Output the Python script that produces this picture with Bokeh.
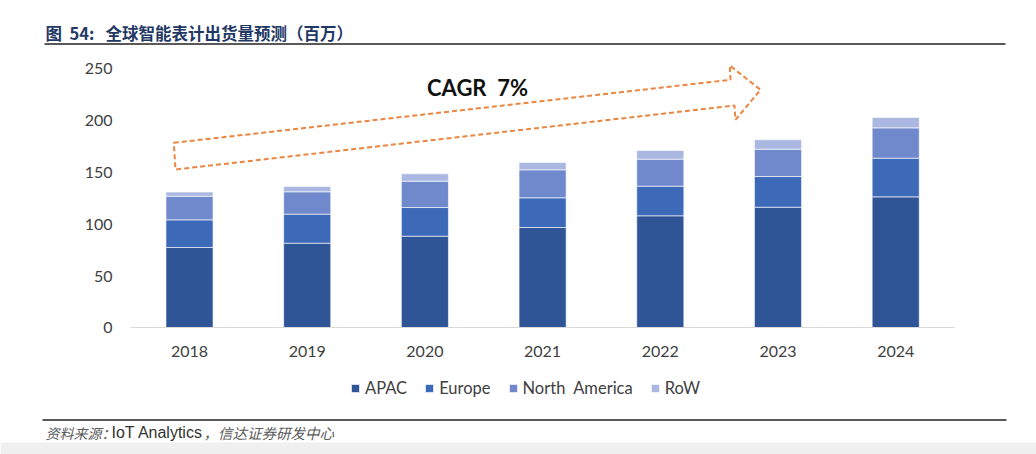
from bokeh.plotting import figure
from bokeh.models import (ColumnDataSource, Range1d, FixedTicker, Legend, LegendItem,
                          Label, PolyAnnotation, Arrow, BoxAnnotation)
from bokeh.embed import file_html
from bokeh.resources import INLINE

# ---------------- data ----------------
years = ["2018", "2019", "2020", "2021", "2022", "2023", "2024"]
series = ["APAC", "Europe", "North  America", "RoW"]
apac = [77.5, 81.7, 88.4, 96.8, 108.1, 116.4, 126.4]
europe = [26.7, 28.0, 27.7, 28.7, 28.6, 29.6, 37.3]
north_america = [22.8, 21.6, 25.4, 27.0, 26.1, 26.4, 29.3]
row = [4.0, 5.1, 7.1, 7.1, 8.3, 9.1, 10.0]
y_ticks = [0, 50, 100, 150, 200, 250]

title_text = "图\u00a0\u00a054:\u00a0\u00a0\u00a0全球智能表计出货量预测（百万）"
source_parts = ["资料来源：", "IoT Analytics", "，信达证券研发中心"]
cagr_text = "CAGR\u00a0\u00a07%"

colors = ["#2F5597", "#3D69B9", "#7089CC", "#A9B7E1"]

# ---------------- geometry (page pixels) ----------------
W, H = 1036, 454
x0_px, unit_w = 189.0, 117.7     # centre of first category, category spacing
y0_px, ppu = 327.3, 1.036         # baseline, pixels per unit


def dx(px):
    return (px - x0_px) / unit_w


def dy(py):
    return (y0_px - py) / ppu


xs = list(range(len(years)))

p = figure(width=W, height=H, x_range=Range1d(dx(0), dx(W)), y_range=Range1d(dy(H), dy(0)),
           output_backend="svg", toolbar_location=None,
           min_border=0, min_border_left=0, min_border_right=0,
           min_border_top=0, min_border_bottom=0)
p.outline_line_color = None
p.xgrid.grid_line_color = None
p.ygrid.grid_line_color = None
p.background_fill_color = "white"
p.border_fill_color = "white"

src = ColumnDataSource(dict(x=xs, APAC=apac, Europe=europe, NA=north_america, RoW=row))
renderers = p.vbar_stack(["APAC", "Europe", "NA", "RoW"], x="x", width=0.4,
                         source=src, color=colors, line_color="#FFFFFF", line_width=0.6)

# y axis
ya = p.yaxis[0]
ya.fixed_location = -0.5
ya.bounds = (0, 250)
ya.ticker = FixedTicker(ticks=y_ticks)
ya.axis_line_color = None
ya.major_tick_line_color = None
ya.minor_tick_line_color = None
ya.major_label_text_font = "Lato"
ya.major_label_text_font_size = "16px"
ya.major_label_text_color = "#404040"
ya.major_label_standoff = 12

# x axis
xa = p.xaxis[0]
xa.fixed_location = 0
xa.bounds = (-0.5, len(years) - 0.5)
xa.ticker = FixedTicker(ticks=xs)
xa.major_label_overrides = {i: y for i, y in zip(xs, years)}
xa.axis_line_color = "#D9D9D9"
xa.axis_line_width = 1.2
xa.major_tick_line_color = None
xa.minor_tick_line_color = None
xa.major_label_text_font = "Lato"
xa.major_label_text_font_size = "16px"
xa.major_label_text_color = "#404040"
xa.major_label_standoff = 12

# legend
items = [LegendItem(label=s, renderers=[r]) for s, r in zip(series, renderers)]
legend = Legend(items=items, orientation="horizontal", location=(350, 56),
                glyph_width=10, glyph_height=10, label_standoff=5, spacing=17,
                padding=0, margin=0, border_line_color=None,
                background_fill_alpha=0,
                label_text_font="Lato", label_text_font_size="16.5px",
                label_text_color="#404040")
p.add_layout(legend, "center")

# CAGR arrow
arrow_px = [(173.3, 142.3), (730, 79.3), (729.3, 65), (760, 89.3),
            (735, 119.3), (734, 105), (175, 169)]
p.add_layout(PolyAnnotation(xs=[dx(a) for a, b in arrow_px], ys=[dy(b) for a, b in arrow_px],
                            fill_alpha=0, line_color="#EB8540", line_alpha=1, line_width=2,
                            line_dash="5 3"))
p.add_layout(Label(x=dx(477), y=dy(87), text=cagr_text, text_align="center",
                   text_baseline="middle", text_font="Lato", text_font_style="bold",
                   text_font_size="22px", text_color="#111111"))

# header
p.add_layout(Label(x=dx(45), y=dy(32), text=title_text, text_align="left",
                   text_baseline="middle", text_font="Noto Sans CJK SC",
                   text_font_style="bold", text_font_size="16.5px", text_color="#1F3864"))
p.add_layout(Arrow(end=None, x_start=dx(44), y_start=dy(43.5), x_end=dx(1005), y_end=dy(43.5),
                   line_color="#222222", line_width=1.5))

# footer
p.add_layout(Arrow(end=None, x_start=dx(42), y_start=dy(419.5), x_end=dx(1006), y_end=dy(419.5),
                   line_color="#222222", line_width=1.5))
for txt, px, style, col, font, size in [
        (source_parts[0], 45, "italic", "#5A5A5A", "Noto Sans CJK SC", "14px"),
        (source_parts[1], 111, "normal", "#333333", "Liberation Sans", "16px"),
        (source_parts[2], 203, "italic", "#5A5A5A", "Noto Sans CJK SC", "14.5px")]:
    p.add_layout(Label(x=dx(px), y=dy(432), text=txt, text_align="left",
                       text_baseline="middle", text_font=font,
                       text_font_style=style, text_font_size=size, text_color=col))
p.add_layout(BoxAnnotation(left=dx(0), right=dx(W), bottom=dy(H), top=dy(442),
                           fill_color="#F0F0F0", fill_alpha=1, line_color=None))

open("out.html", "w").write(file_html(p, INLINE))
